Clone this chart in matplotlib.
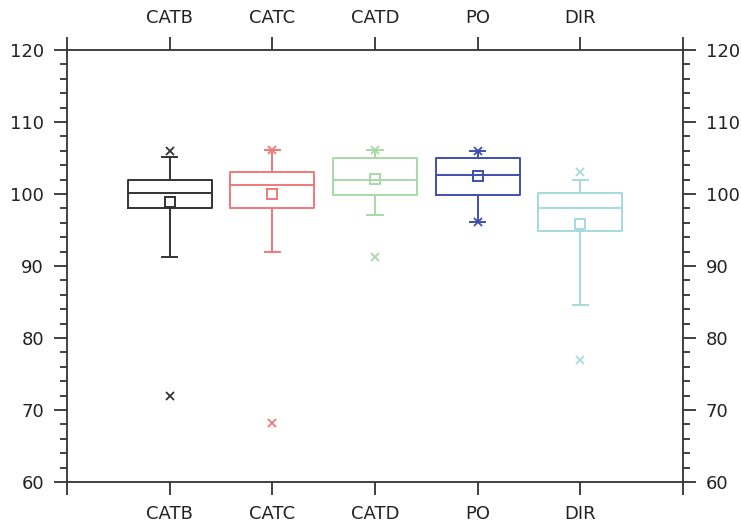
import matplotlib
matplotlib.use("Agg")
import matplotlib.pyplot as plt
from matplotlib.ticker import MultipleLocator

# data
labels = ["CATB", "CATC", "CATD", "PO", "DIR"]
q1 = [98.0, 98.0, 99.9, 99.9, 94.9]
med = [100.1, 101.2, 101.9, 102.7, 98.1]
q3 = [102.0, 103.0, 105.0, 105.0, 100.1]
means = [98.9, 100.0, 102.1, 102.5, 95.8]
whislo = [91.2, 92.0, 97.1, 96.1, 84.6]
whishi = [105.1, 106.1, 106.1, 106.0, 102.0]
fliers = [[106.0, 71.9], [106.1, 68.2], [106.1, 91.2], [106.0, 96.1], [103.0, 77.0]]
colors = ["#333333", "#f07878", "#a8d9a8", "#3f4fb0", "#a6dbe0"]

stats = []
for i in range(len(labels)):
    stats.append(dict(label=labels[i], q1=q1[i], med=med[i], q3=q3[i],
                      mean=means[i], whislo=whislo[i], whishi=whishi[i],
                      fliers=fliers[i]))

fig = plt.figure(figsize=(7.41, 5.22), dpi=100)
ax = fig.add_axes([67/741, 40/522, 616/741, 432/522])

positions = list(range(1, len(labels) + 1))
for i, s in enumerate(stats):
    c = colors[i]
    ax.bxp([s], positions=[positions[i]], widths=0.82, capwidths=0.15,
           showmeans=True, patch_artist=False,
           boxprops=dict(color=c, linewidth=1.4),
           medianprops=dict(color=c, linewidth=1.4),
           whiskerprops=dict(color=c, linewidth=1.4),
           capprops=dict(color=c, linewidth=1.4),
           meanprops=dict(marker="s", markerfacecolor="none",
                          markeredgecolor=c, markersize=7.5, markeredgewidth=1.4),
           flierprops=dict(marker="x", markeredgecolor=c, markersize=6,
                           markeredgewidth=1.3, linestyle="none"))

ax.set_xlim(0, 6)
ax.set_ylim(60, 120)
ax.set_xticks([0] + positions + [6])
ax.set_xticklabels([""] + labels + [""])
ax.yaxis.set_major_locator(MultipleLocator(10))
ax.yaxis.set_minor_locator(MultipleLocator(2))

for sp in ax.spines.values():
    sp.set_color("#333333")
    sp.set_linewidth(1.3)

ax.tick_params(which="both", direction="out", color="#333333", width=1.3,
               top=True, right=True, labeltop=True, labelright=True,
               labelsize=13, labelcolor="#222222")
ax.tick_params(which="major", length=9.5, pad=7)
ax.tick_params(which="minor", length=5)

fig.savefig("out.png", dpi=100)
